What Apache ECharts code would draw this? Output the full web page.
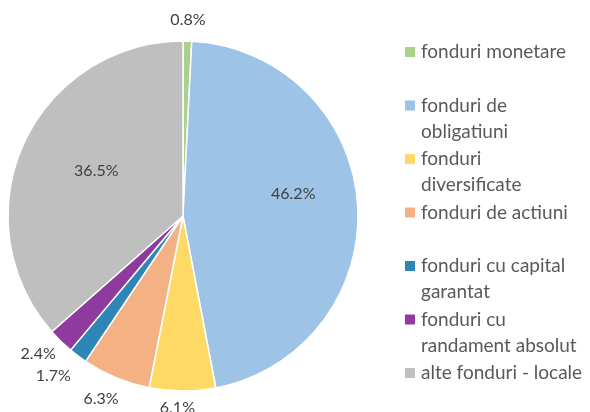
<!DOCTYPE html>
<html>
<head>
<meta charset="utf-8">
<script src="https://cdn.jsdelivr.net/npm/echarts@6/dist/echarts.min.js"></script>
<style>
  html, body { margin: 0; padding: 0; background: #fff; }
  #chart { width: 590px; height: 412px; }
</style>
</head>
<body>
<div id="chart"></div>
<script>
const categories = [
  'fonduri monetare',
  'fonduri de obligatiuni',
  'fonduri diversificate',
  'fonduri de actiuni',
  'fonduri cu capital garantat',
  'fonduri cu randament absolut',
  'alte fonduri - locale'
]
// legend text as wrapped in the picture
const legendLabels = [
  'fonduri monetare',
  'fonduri de\nobligatiuni',
  'fonduri\ndiversificate',
  'fonduri de actiuni',
  'fonduri cu capital\ngarantat',
  'fonduri cu\nrandament absolut',
  'alte fonduri - locale'
]
const values = [0.8, 46.2, 6.1, 6.3, 1.7, 2.4, 36.5]
const colors = ['#a9d18e', '#9dc3e6', '#ffd966', '#f4b183', '#2e86b6', '#8e3a9e', '#bfbfbf']
// slices labelled inside the pie, the rest get their label outside
const insideLabels = ['fonduri de obligatiuni', 'alte fonduri - locale']

// small label nudges, like excel moves them
const nudge = {
  'fonduri de obligatiuni': [0, -15],
  'alte fonduri - locale': [14, 0],
  'fonduri diversificate': [-5, -4],
  'fonduri de actiuni': [-7, 2],
  'fonduri cu capital garantat': [-12, 3],
  'fonduri cu randament absolut': [-8, -2]
}

const font = 'Lato, "Open Sans", sans-serif'
const rich = {
  t: { fontFamily: font, fontSize: 19, color: '#595959', lineHeight: 26, height: 26, padding: [0, 0, 0, 6] },
  u: { fontFamily: font, fontSize: 19, color: '#595959', lineHeight: 26, height: 26, padding: [0, 0, 0, 16] }
}
colors.forEach((c, i) => {
  rich['m' + i] = { width: 10, height: 10, lineHeight: 26, backgroundColor: c }
})

const pct = p => p.value.toFixed(1) + '%'
const labelText = { fontFamily: font, fontSize: 16, color: '#404040' }

function ringData(showInside) {
  return categories.map((name, i) => ({
    name,
    value: values[i],
    label: {
      show: (insideLabels.indexOf(name) >= 0) === showInside,
      offset: nudge[name] || [0, 0]
    }
  }))
}

const chart = echarts.init(document.getElementById('chart'))
chart.setOption({
  animation: false,
  color: colors,
  legend: {
    orient: 'vertical',
    left: 394,
    top: 34,
    itemWidth: 0,
    itemHeight: 0,
    itemGap: 1.5,
    selectedMode: false,
    data: categories,
    formatter: name => {
      const i = categories.indexOf(name)
      const lines = legendLabels[i].split('\n')
      if (i === categories.length - 1) return `{m${i}| }{t|${lines[0]}}`
      const second = lines[1] ? lines[1] : ' '
      return `{m${i}| }{t|${lines[0]}}\n{u|${second}}`
    },
    textStyle: { fontFamily: font, fontSize: 19, lineHeight: 26, rich }
  },
  series: [
    {
      type: 'pie',
      center: [183, 216],
      radius: [0, 175],
      startAngle: 90,
      clockwise: true,
      itemStyle: { borderColor: '#fff', borderWidth: 1.5 },
      label: { show: false },
      labelLine: { show: false },
      emphasis: { disabled: true },
      data: categories.map((name, i) => ({ name, value: values[i] }))
    },
    {
      // transparent ring, only carries the big inside labels
      type: 'pie',
      center: [183, 216],
      radius: [40, 175],
      startAngle: 90,
      clockwise: true,
      silent: true,
      itemStyle: { color: 'rgba(0,0,0,0)' },
      label: Object.assign({ position: 'inside', formatter: pct }, labelText),
      labelLine: { show: false },
      emphasis: { disabled: true },
      data: ringData(true)
    },
    {
      // transparent ring outside the pie, carries the small labels
      type: 'pie',
      center: [183, 216],
      radius: [178, 208],
      startAngle: 90,
      clockwise: true,
      silent: true,
      itemStyle: { color: 'rgba(0,0,0,0)' },
      label: Object.assign({ position: 'inside', formatter: pct }, labelText),
      labelLine: { show: false },
      emphasis: { disabled: true },
      data: ringData(false)
    }
  ]
})
</script>
</body>
</html>
